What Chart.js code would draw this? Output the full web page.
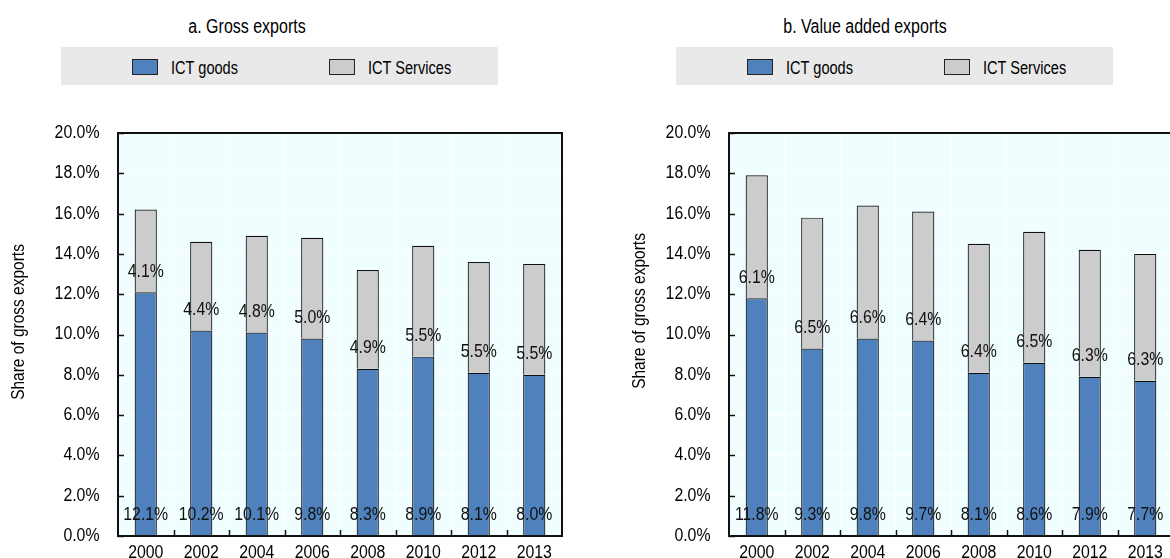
<!DOCTYPE html>
<html>
<head>
<meta charset="utf-8">
<script src="https://cdn.jsdelivr.net/npm/chart.js@4.4.1/dist/chart.umd.min.js"></script>
<style>
  html, body { margin: 0; padding: 0; background: #fff; overflow: hidden; }
  #page { position: relative; width: 1170px; height: 558px; overflow: hidden; font-family: "Liberation Sans", Arial, sans-serif; color: #000; }
  .titulo { position: absolute; top: 16px; font-size: 20px; line-height: 20px; white-space: nowrap; transform: translateX(-50%) scaleX(0.8); }
  .banda { position: absolute; top: 47px; width: 437px; height: 38px; background: #e9e9e9; }
  .caja { position: absolute; top: 12px; width: 24px; height: 14px; border: 1px solid #222; }
  .texto { position: absolute; top: 12px; font-size: 18px; line-height: 18px; white-space: nowrap; transform-origin: left center; transform: scaleX(0.81); }
  .panel { position: absolute; top: 0; height: 558px; }
</style>
</head>
<body>
<div id="page">
  <div class="titulo" style="left:247px">a. Gross exports</div>
  <div class="titulo" style="left:865px">b. Value added exports</div>
  <div class="banda" id="leyendaA" style="left:61px"></div>
  <div class="banda" id="leyendaB" style="left:676px"></div>
  <div class="panel" style="left:0; width:585px"><canvas id="chartA" width="585" height="558"></canvas></div>
  <div class="panel" style="left:585px; width:600px"><canvas id="chartB" width="600" height="558"></canvas></div>
</div>
<script>
const anios = ["2000", "2002", "2004", "2006", "2008", "2010", "2012", "2013"];
const series = ["ICT goods", "ICT Services"];

// a. Gross exports
const brutoBienes = [12.1, 10.2, 10.1, 9.8, 8.3, 8.9, 8.1, 8.0];
const brutoServicios = [4.1, 4.4, 4.8, 5.0, 4.9, 5.5, 5.5, 5.5];

// b. Value added exports
const vaBienes = [11.8, 9.3, 9.8, 9.7, 8.1, 8.6, 7.9, 7.7];
const vaServicios = [6.1, 6.5, 6.6, 6.4, 6.4, 6.5, 6.3, 6.3];

const yTicks = [0, 2, 4, 6, 8, 10, 12, 14, 16, 18, 20];
const tituloEjeY = "Share of gross exports";

const colores = ["#4f81bd", "#cccccc"];
const fuente = '"Liberation Sans", Arial, sans-serif';
const angosto = 0.88; // el original usa una letra estrecha

function armarLeyenda(id) {
  const banda = document.getElementById(id);
  const posCaja = [71, 268];
  const posTexto = [110, 307];
  series.forEach((nombre, i) => {
    const caja = document.createElement("div");
    caja.className = "caja";
    caja.style.left = posCaja[i] + "px";
    caja.style.background = colores[i];
    banda.appendChild(caja);
    const txt = document.createElement("div");
    txt.className = "texto";
    txt.style.left = posTexto[i] + "px";
    txt.textContent = nombre;
    banda.appendChild(txt);
  });
}
armarLeyenda("leyendaA");
armarLeyenda("leyendaB");

function textoAngosto(ctx, txt, x, y, escala) {
  ctx.save();
  ctx.translate(x, y);
  ctx.scale(escala, 1);
  ctx.fillText(txt, 0, 0);
  ctx.restore();
}

// fondo, marco, marcas hacia adentro y rotulos de ejes
const marcoPlugin = {
  id: "marco",
  beforeDraw(chart) {
    const { ctx, chartArea: a } = chart;
    ctx.save();
    ctx.fillStyle = "#f1feff";
    ctx.fillRect(a.left, a.top, a.right - a.left, a.bottom - a.top);
    ctx.restore();
  },
  afterDraw(chart, args, opts) {
    const { ctx, chartArea: a } = chart;
    const x = chart.scales.x, y = chart.scales.y;
    ctx.save();
    ctx.strokeStyle = "#111";
    ctx.lineWidth = 1.5;
    for (let i = 0; i < anios.length - 1; i++) {
      const px = Math.round((x.getPixelForTick(i) + x.getPixelForTick(i + 1)) / 2) + 0.5;
      ctx.beginPath();
      ctx.moveTo(px, a.bottom);
      ctx.lineTo(px, a.bottom - 6);
      ctx.stroke();
    }
    y.ticks.forEach(t => {
      const py = Math.round(y.getPixelForValue(t.value)) + 0.5;
      ctx.beginPath();
      ctx.moveTo(a.left, py);
      ctx.lineTo(a.left + 6, py);
      ctx.stroke();
    });
    ctx.lineWidth = 2;
    ctx.strokeRect(a.left, a.top, a.right - a.left, a.bottom - a.top);

    ctx.fillStyle = "#000";
    ctx.font = "18px " + fuente;
    // rotulos eje y
    ctx.textAlign = "right";
    ctx.textBaseline = "middle";
    y.ticks.forEach(t => {
      textoAngosto(ctx, t.value.toFixed(1) + "%", a.left - 18.5, y.getPixelForValue(t.value), angosto);
    });
    // rotulos eje x
    ctx.textAlign = "center";
    ctx.textBaseline = "alphabetic";
    x.ticks.forEach((t, i) => {
      textoAngosto(ctx, chart.data.labels[i], x.getPixelForTick(i), a.bottom + 22, angosto);
    });
    // titulo eje y
    ctx.save();
    ctx.translate(opts.tituloX, opts.tituloY);
    ctx.rotate(-Math.PI / 2);
    ctx.textBaseline = "middle";
    textoAngosto(ctx, tituloEjeY, 0, 0, 0.86);
    ctx.restore();
    ctx.restore();
  }
};

// etiquetas de valores en la base de cada segmento
const etiquetasPlugin = {
  id: "etiquetas",
  afterDatasetsDraw(chart) {
    const ctx = chart.ctx;
    ctx.save();
    ctx.font = "18px " + fuente;
    ctx.fillStyle = "#111";
    ctx.textAlign = "center";
    ctx.textBaseline = "middle";
    chart.data.datasets.forEach((ds, di) => {
      chart.getDatasetMeta(di).data.forEach((bar, i) => {
        textoAngosto(ctx, ds.data[i].toFixed(1) + "%", bar.x, bar.base - 20.5, angosto);
      });
    });
    ctx.restore();
  }
};

function crearGrafico(id, bienes, servicios, padIzq, anchoEje, padDer, tituloX, tituloY) {
  return new Chart(document.getElementById(id), {
    type: "bar",
    data: {
      labels: anios,
      datasets: [
        { label: series[0], data: bienes, backgroundColor: colores[0], borderColor: "#111", borderWidth: 1.2,
          categoryPercentage: 1, barPercentage: 0.4 },
        { label: series[1], data: servicios, backgroundColor: colores[1], borderColor: "#111", borderWidth: 1.2,
          categoryPercentage: 1, barPercentage: 0.4 }
      ]
    },
    options: {
      responsive: false,
      animation: false,
      layout: { padding: { top: 133, left: padIzq, right: padDer, bottom: 0 } },
      plugins: {
        legend: { display: false }, tooltip: { enabled: false }, title: { display: false },
        marco: { tituloX: tituloX, tituloY: tituloY }
      },
      scales: {
        x: {
          stacked: true,
          grid: { color: "#ffffff", lineWidth: 1, offset: true, drawTicks: false },
          border: { display: false },
          ticks: { display: false, autoSkip: false },
          afterFit(scale) { scale.height = 22; }
        },
        y: {
          stacked: true,
          min: 0,
          max: 20,
          afterBuildTicks(scale) { scale.ticks = yTicks.map(v => ({ value: v })); },
          grid: { color: "#ffffff", lineWidth: 1, drawTicks: false },
          border: { display: false },
          ticks: { display: false },
          afterFit(scale) { scale.width = anchoEje; }
        }
      }
    },
    plugins: [marcoPlugin, etiquetasPlugin]
  });
}

crearGrafico("chartA", brutoBienes, brutoServicios, 0, 118, 23, 19.5, 322);
crearGrafico("chartB", vaBienes, vaServicios, 35.5, 108.5, 12, 54.7, 311);
</script>
</body>
</html>
